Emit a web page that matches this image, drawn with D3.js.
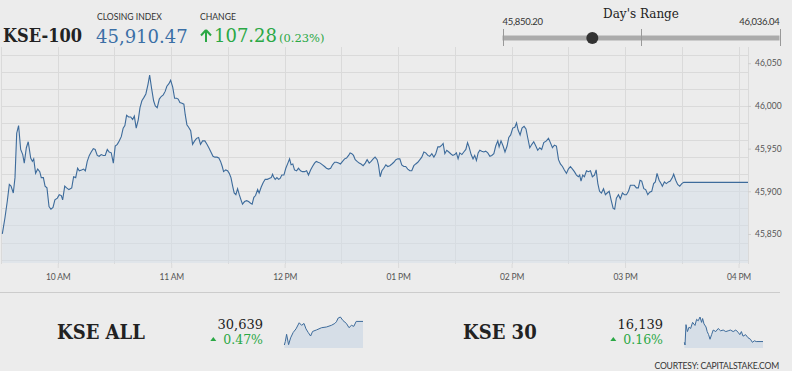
<!DOCTYPE html>
<html>
<head>
<meta charset="utf-8">
<script src="https://cdn.jsdelivr.net/npm/d3@7"></script>
<style>
  html, body { margin: 0; padding: 0; background: #ececec; }
  svg { display: block; }
  .serif { font-family: "DejaVu Serif", serif; }
  .cond { font-family: "DejaVu Serif Condensed", "DejaVu Serif", serif; font-stretch: condensed; }
  .sans { font-family: Lato, "Open Sans", sans-serif; }
</style>
</head>
<body>
<div id="container"></div>
<script>
// minutes after 09:30 open, index value
const kse100 = [
  [0.7,45850.2],[2.1,45869],[3.3,45888],[4.4,45908],[5.3,45906],[6.5,45898],[7.4,45916],[8.3,45968],[9.3,45977],[10.4,45949],
  [11.5,45943],[12.3,45933],[13.4,45951],[14.4,45958],[15.7,45939],[16.6,45935],[17.3,45938],[18.3,45921],[19.4,45926],[20.5,45923],
  [21.3,45916],[22.4,45916],[23.3,45906],[24.3,45904],[25.4,45882],[26.4,45879],[27.5,45881],[28.5,45890],[29.8,45892],[30.8,45896],
  [31.9,45895],[32.6,45890],[33.7,45906],[34.7,45904],[35.9,45902],[37.4,45904],[38.4,45917],[39.5,45916],[40.5,45927],[41.4,45924],
  [42.6,45925],[43.7,45926],[44.6,45924],[45.6,45935],[46.7,45942],[47.7,45946],[48.8,45950],[49.8,45949],[50.9,45942],[51.9,45941],
  [53,45943],[54.1,45942],[55.1,45942],[56.2,45949],[57.2,45946],[58.3,45945],[59.4,45933],[60.4,45953],[61.5,45955],[62.5,45959],
  [63.6,45964],[64.6,45974],[65.5,45977],[66.4,45989],[67.5,45987],[68.6,45987],[69.6,45984],[70.5,45988],[71.5,45974],[72.6,45984],
  [73.5,45998],[74.5,46006],[75.6,46010],[76.6,46014],[77.7,46025],[78.6,46036.04],[79.6,46021],[80.7,46006],[81.6,46000],[82.6,45998],
  [83.7,46008],[84.7,46011],[85.8,46013],[86.8,46017],[87.7,46023],[88.8,46026],[89.7,46030],[90.8,46022],[91.8,46009],[92.9,46009],
  [93.7,46008],[94.6,46004],[95.7,46003],[96.7,46002],[97.4,45990],[98.3,45978],[99.2,45975],[100.3,45971],[101.3,45955],[102.4,45959],
  [103.4,45962],[104.5,45963],[105.5,45955],[106.6,45959],[107.8,45959],[108.9,45955],[109.9,45951],[111,45946],[112.1,45941],[113.1,45940],
  [114.2,45940],[115.2,45939],[116.1,45935],[117,45929],[117.7,45923],[118.8,45925],[119.8,45924],[120.7,45921],[121.6,45916],[122.5,45906],
  [123.3,45898],[124.2,45896],[125.1,45903],[126,45896],[126.9,45890],[127.7,45885],[128.8,45888],[129.9,45889],[130.9,45888],[132,45886],
  [132.8,45885],[133.7,45893],[134.6,45895],[135.7,45902],[136.5,45898],[137.6,45905],[138.6,45910],[139.7,45914],[140.8,45914],[141.8,45915],
  [142.9,45916],[143.6,45920],[144.1,45917],[145,45914],[145.9,45916],[146.8,45914],[147.6,45915],[148.5,45919],[149.6,45919],[150.6,45927],
  [151.7,45933],[152.6,45938],[153.4,45931],[154.3,45932],[155.2,45925],[156.3,45924],[157.3,45927],[158.4,45924],[159.4,45923],[160.5,45923],
  [161.6,45924],[162.6,45919],[163.7,45925],[164.7,45929],[165.8,45933],[166.7,45935],[167.7,45934],[168.8,45933],[170,45931],[171.1,45929],
  [172.1,45927],[173.2,45926],[174.3,45927],[175.3,45931],[176.4,45934],[177.4,45934],[178.5,45933],[179.5,45932],[180.6,45935],[181.7,45938],
  [182.7,45939],[183.8,45942],[184.6,45945],[185.5,45944],[186.4,45942],[187.3,45937],[188.3,45935],[189.4,45933],[190.4,45932],[191.5,45930],
  [192.6,45933],[193.6,45937],[194.7,45933],[195.7,45935],[196.8,45938],[197.8,45940],[198.9,45937],[199.6,45931],[200.5,45917],[201.4,45924],
  [202.4,45927],[203.5,45931],[204.5,45929],[205.6,45930],[206.7,45932],[207.7,45934],[208.8,45937],[209.8,45938],[210.9,45938],[211.9,45931],
  [213,45929],[214,45929],[215.1,45926],[216.2,45924],[217.2,45924],[218.3,45930],[219.3,45932],[220.4,45934],[221.5,45937],[222.5,45940],
  [223.6,45946],[224.6,45945],[225.7,45942],[226.7,45941],[227.8,45944],[228.9,45940],[229.9,45944],[231,45952],[232,45952],[233.1,45954],
  [233.8,45956],[234.7,45944],[235.7,45948],[236.8,45946],[237.8,45944],[238.9,45942],[239.9,45943],[240.8,45945],[241.7,45938],[242.6,45945],
  [243.7,45943],[244.7,45946],[245.8,45949],[246.7,45957],[247.5,45952],[248.6,45943],[249.6,45938],[250.5,45942],[251.4,45936],[252.3,45945],
  [253.2,45948],[254.2,45947],[255.3,45946],[256.3,45947],[257.4,45945],[258.5,45941],[259.5,45942],[260.6,45944],[261.6,45953],[262.7,45959],
  [263.4,45952],[264.4,45959],[265.5,45953],[266.5,45946],[267.6,45953],[268.5,45963],[269.5,45966],[270.6,45974],[271.7,45975],[272.6,45980],
  [273.4,45972],[274.5,45966],[275.5,45974],[276.6,45976],[277.6,45973],[278.5,45963],[279.6,45951],[280.7,45955],[281.7,45958],[282.8,45953],
  [283.8,45948],[284.9,45951],[285.9,45949],[287,45957],[288.4,45959],[289.5,45962],[290.5,45957],[291.6,45951],[292.6,45954],[293.7,45953],
  [294.8,45937],[295.8,45932],[296.9,45929],[297.9,45925],[299,45921],[300,45926],[301.1,45929],[302.2,45926],[303.2,45923],[304.3,45919],
  [305.3,45917],[306,45919],[306.7,45912],[307.6,45919],[308.5,45917],[309.6,45924],[310.6,45923],[311.7,45924],[312.7,45917],[313.8,45919],
  [314.7,45925],[315.6,45909],[316.5,45900],[317.5,45898],[318.6,45903],[319.6,45896],[320.5,45898],[321.6,45900],[322.6,45890],[323.7,45880],
  [324.5,45879],[325.4,45892],[326.5,45896],[327.5,45891],[328.6,45898],[329.7,45896],[330.7,45896],[331.8,45900],[332.8,45907],[333.9,45907],
  [334.9,45907],[336,45904],[337,45904],[337.9,45913],[338.8,45912],[339.9,45903],[340.9,45902],[342,45896],[343,45899],[344.1,45900],
  [345.1,45909],[346,45911],[346.9,45921],[348,45913],[349,45909],[349.7,45906],[350.8,45911],[351.8,45909],[352.9,45911],[353.9,45912],
  [355,45916],[355.7,45920],[356.8,45913],[357.8,45908],[358.9,45906],[360,45909],[361,45910.47]
];

const kseAll = [
  [1.7,30500],[6.6,30521],[13,30563],[23,30502],[33,30542],[46,30574],[60,30595],[76,30631],[88,30616],[100,30627],
  [110,30595],[121,30574],[133,30553],[143,30580],[163,30589],[188,30602],[212,30606],[237,30616],[254,30627],[262,30637],
  [271,30659],[282,30665],[295,30644],[312,30627],[325,30602],[337,30616],[349,30610],[361,30639]
];

const kse30 = [
  [1.7,16137],[5,16130],[10,16183],[17,16165],[26,16177],[33,16173],[43,16189],[55,16181],[63,16197],[71,16193],
  [80,16203],[88,16189],[93,16199],[100,16185],[110,16177],[116,16165],[123,16157],[130,16145],[138,16157],[146,16169],
  [159,16165],[171,16173],[183,16167],[196,16169],[209,16165],[221,16167],[232,16169],[246,16165],[259,16169],[271,16163],
  [279,16157],[287,16165],[295,16153],[308,16157],[320,16149],[332,16145],[342,16137],[352,16141],[361,16139]
];

const headline = { name: 'KSE-100', close: '45,910.47', change: '107.28', pct: '(0.23%)' };
const dayRange = [45850.20, 46036.04];
const closeValue = 45910.47;
const subIndices = [
  { name: 'KSE ALL', value: '30,639', pct: '0.47%', series: kseAll },
  { name: 'KSE 30', value: '16,139', pct: '0.16%', series: kse30 }
];
const yTickValues = [45850, 45900, 45950, 46000, 46050];
const yGridValues = d3.range(45820, 46061, 20);

const W = 792, H = 371;
const open = new Date(2019, 0, 7, 9, 30);
const at = m => new Date(open.getTime() + m * 60000);
const endTime = at(395);

const svg = d3.select('#container').append('svg').attr('width', W).attr('height', H);

const lineColor = '#3d6b9b';
const green = '#2aa845';

// ---- main chart
const x = d3.scaleTime().domain([open, endTime]).range([1, 748]);
const y = d3.scaleLinear().domain([45816, 46069]).range([263, 47]);

const grid = svg.append('g');
yGridValues.forEach(v => {
  grid.append('line').attr('x1', 1).attr('x2', 748).attr('y1', Math.round(y(v)) + 0.5).attr('y2', Math.round(y(v)) + 0.5)
    .attr('stroke', '#dadada').attr('stroke-width', 1);
});
d3.timeMinute.every(30).range(open, d3.timeMinute.offset(endTime, 1)).forEach(t => {
  grid.append('line').attr('x1', Math.round(x(t)) + 0.5).attr('x2', Math.round(x(t)) + 0.5).attr('y1', 47).attr('y2', 264)
    .attr('stroke', '#dadada');
});
grid.append('line').attr('x1', 748.5).attr('x2', 748.5).attr('y1', 47).attr('y2', 264).attr('stroke', '#dadada');

const pts = kse100.map(d => [at(d[0]), d[1]]);
pts.push([endTime, closeValue]); // last value carried to the right edge

const area = d3.area().x(d => x(d[0])).y0(263).y1(d => y(d[1]));
const line = d3.line().x(d => x(d[0])).y(d => y(d[1]));
svg.append('path').attr('d', area(pts)).attr('fill', '#d3dde8').attr('opacity', 0.5);
svg.append('path').attr('d', line(pts)).attr('fill', 'none').attr('stroke', lineColor).attr('stroke-width', 1.1);

// x axis labels
const xAxis = d3.axisBottom(x).ticks(d3.timeHour.every(1)).tickFormat(d3.timeFormat('%I %p')).tickSize(4).tickPadding(6);
const gx = svg.append('g').attr('transform', 'translate(0,264)').call(xAxis);
gx.select('.domain').remove();
gx.selectAll('line').attr('stroke', '#dadada');
gx.selectAll('text').attr('class', 'sans').attr('font-size', 8.5).attr('fill', '#555').attr('letter-spacing', '-0.2');

// y axis labels on right
const yAxis = d3.axisRight(y).tickValues(yTickValues).tickFormat(d3.format(',')).tickSize(3).tickPadding(4);
const gy = svg.append('g').attr('transform', 'translate(748,0)').call(yAxis);
gy.select('.domain').remove();
gy.selectAll('line').attr('stroke', '#cfcfcf');
gy.selectAll('text').attr('class', 'sans').attr('font-size', 8.5).attr('fill', '#555');

// ---- header
svg.append('text').attr('class', 'cond').attr('x', 3).attr('y', 41.5).attr('font-size', 18).attr('font-weight', 'bold')
  .attr('fill', '#222').text(headline.name);
svg.append('text').attr('class', 'sans').attr('x', 97).attr('y', 20).attr('font-size', 8.6).attr('fill', '#333').text('CLOSING INDEX');
svg.append('text').attr('class', 'serif').attr('x', 96).attr('y', 43).attr('font-size', 18).attr('fill', '#3b6fa6').text(headline.close);
svg.append('text').attr('class', 'sans').attr('x', 200).attr('y', 20).attr('font-size', 8.6).attr('fill', '#333').text('CHANGE');
svg.append('path').attr('d', 'M206,30 L201,35.5 M206,30 L211,35.5 M206,30 L206,42').attr('stroke', green).attr('stroke-width', 2)
  .attr('fill', 'none');
svg.append('text').attr('class', 'serif').attr('x', 214).attr('y', 42).attr('font-size', 18).attr('fill', green).text(headline.change);
svg.append('text').attr('class', 'serif').attr('x', 279).attr('y', 42).attr('font-size', 11.5).attr('fill', green).text(headline.pct);

// day's range slider
const r = d3.scaleLinear().domain(dayRange).range([502.5, 779.5]);
svg.append('text').attr('class', 'serif').attr('x', 641).attr('y', 18).attr('text-anchor', 'middle').attr('font-size', 12)
  .attr('fill', '#222').text("Day's Range");
svg.append('text').attr('class', 'sans').attr('x', r(dayRange[0])).attr('y', 25).attr('font-size', 9.5).attr('fill', '#333')
  .attr('letter-spacing', '-0.3').text(d3.format(',.2f')(dayRange[0]));
svg.append('text').attr('class', 'sans').attr('x', r(dayRange[1])).attr('y', 25).attr('text-anchor', 'end').attr('font-size', 9.5)
  .attr('fill', '#333').attr('letter-spacing', '-0.3').text(d3.format(',.2f')(dayRange[1]));
svg.append('rect').attr('x', r(dayRange[0])).attr('y', 35.5).attr('width', r(dayRange[1]) - r(dayRange[0])).attr('height', 5)
  .attr('fill', '#ababab');
[dayRange[0], d3.mean(dayRange), dayRange[1]].forEach(v => {
  svg.append('line').attr('x1', Math.round(r(v)) + 0.5).attr('x2', Math.round(r(v)) + 0.5).attr('y1', 29).attr('y2', 46)
    .attr('stroke', '#999').attr('stroke-width', 1);
});
svg.append('circle').attr('cx', r(closeValue)).attr('cy', 38).attr('r', 6).attr('fill', '#333');

// ---- bottom strip
svg.append('line').attr('x1', 0).attr('x2', 780).attr('y1', 292.5).attr('y2', 292.5).attr('stroke', '#cccccc');

const blocks = [
  { nameX: 57, numRight: 263, sparkX: [284, 363] },
  { nameX: 463, numRight: 663, sparkX: [684, 763] }
];
subIndices.forEach((s, i) => {
  const b = blocks[i];
  svg.append('text').attr('class', 'cond').attr('x', b.nameX).attr('y', 339).attr('font-size', 20).attr('font-weight', 'bold')
    .attr('fill', '#222').text(s.name);
  svg.append('text').attr('class', 'serif').attr('x', b.numRight).attr('y', 329).attr('text-anchor', 'end').attr('font-size', 13)
    .attr('fill', '#222').text(s.value);
  const pctText = svg.append('text').attr('class', 'serif').attr('x', b.numRight).attr('y', 344).attr('text-anchor', 'end')
    .attr('font-size', 12.5).attr('fill', green).text(s.pct);
  const tw = pctText.node().getComputedTextLength();
  const tx = b.numRight - tw - 10;
  svg.append('path').attr('d', `M${tx - 3},341 L${tx + 3},341 L${tx},337 Z`).attr('fill', green);

  const sx = d3.scaleTime().domain([open, endTime]).range(b.sparkX);
  const sy = d3.scaleLinear().domain(d3.extent(s.series, d => d[1])).range([345, 317]);
  const sp = s.series.map(d => [at(d[0]), d[1]]);
  sp.push([endTime, s.series[s.series.length - 1][1]]);
  svg.append('path').attr('d', d3.area().x(d => sx(d[0])).y0(348).y1(d => sy(d[1]))(sp)).attr('fill', '#d6dee7');
  svg.append('path').attr('d', d3.line().x(d => sx(d[0])).y(d => sy(d[1]))(sp)).attr('fill', 'none')
    .attr('stroke', lineColor).attr('stroke-width', 1);
});

svg.append('text').attr('class', 'sans').attr('x', 779).attr('y', 368.5).attr('text-anchor', 'end').attr('font-size', 8.6)
  .attr('fill', '#333').attr('letter-spacing', '-0.2').text('COURTESY: CAPITALSTAKE.COM');
</script>
</body>
</html>
